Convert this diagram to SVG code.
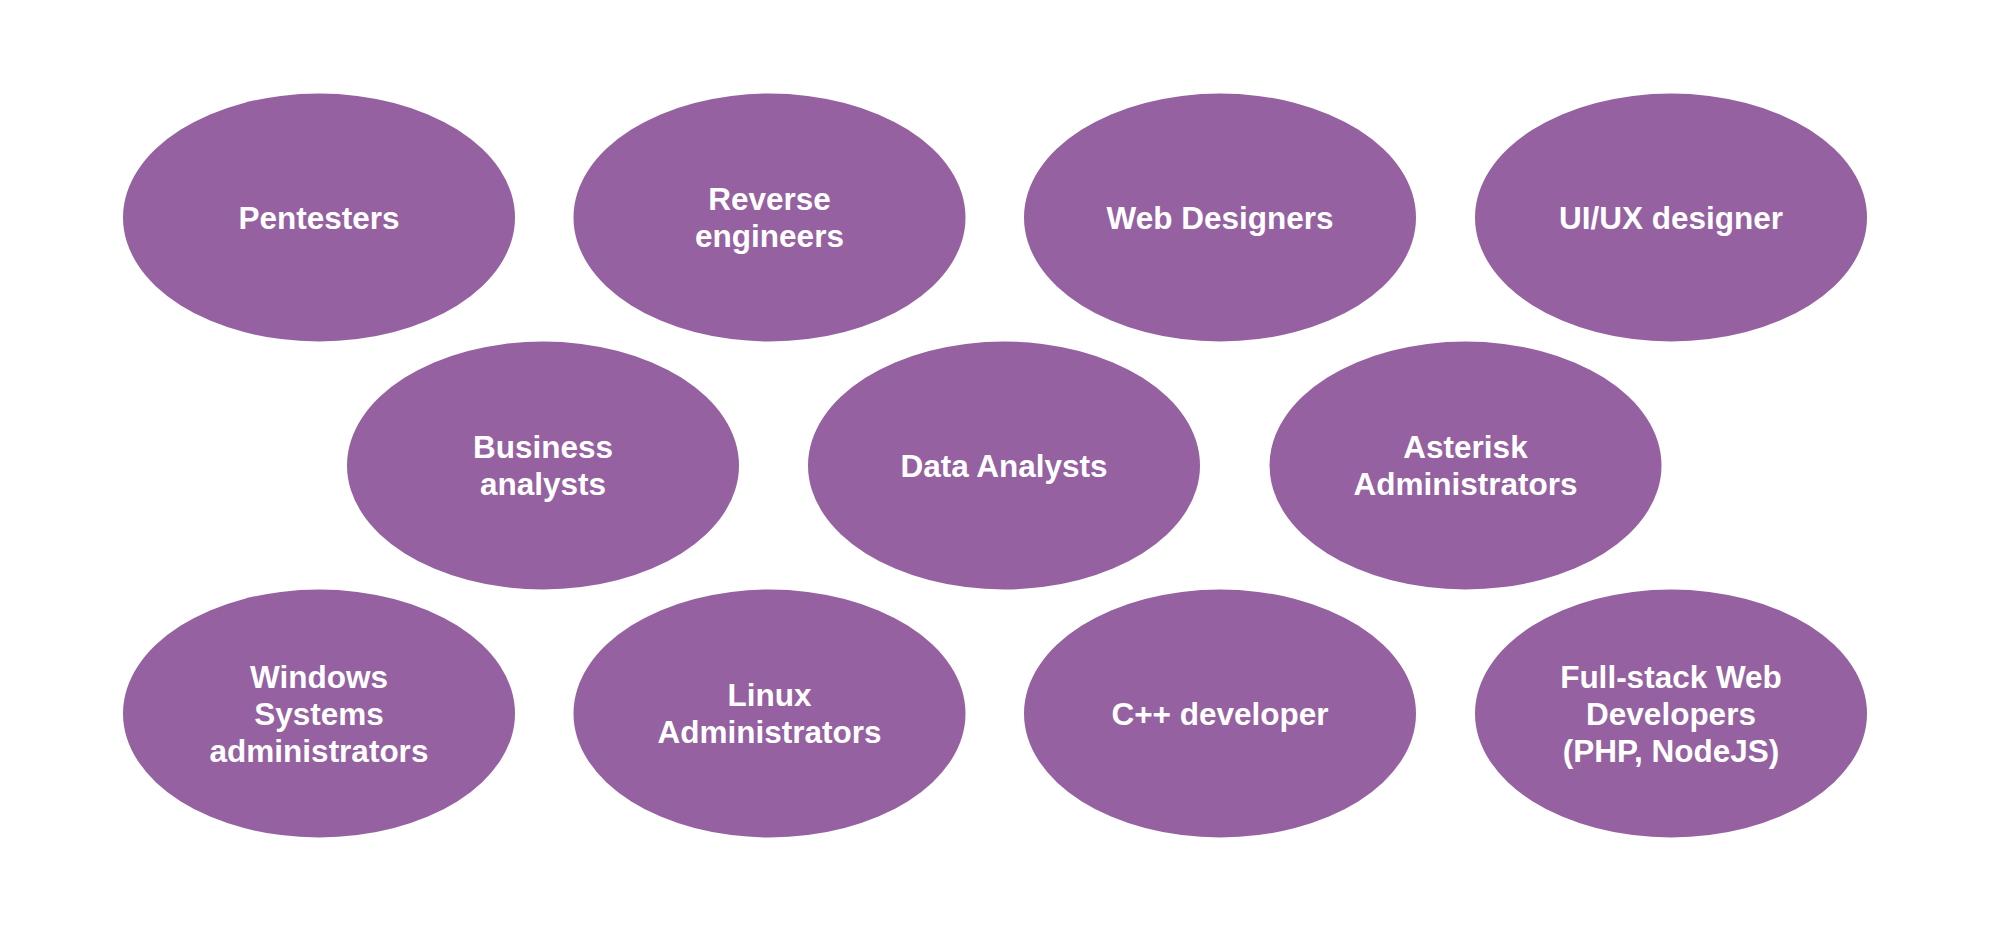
<svg xmlns="http://www.w3.org/2000/svg" width="1999" height="945" viewBox="0 0 1999 945">
<style>
.node ellipse{fill:#9561a1;}
.node text{font-family:"Liberation Sans",Arial,Helvetica,sans-serif;font-weight:bold;font-size:31.5px;fill:#ffffff;text-anchor:middle;}
</style>
<rect width="1999" height="945" fill="#ffffff"/>
<g id="connectors"></g>
<g id="n1" class="node"><ellipse cx="319" cy="217.5" rx="196" ry="124"/><text x="319" y="229">Pentesters</text></g>
<g id="n2" class="node"><ellipse cx="769.5" cy="217.5" rx="196" ry="124"/><text x="769.5" y="210">Reverse</text><text x="769.5" y="247">engineers</text></g>
<g id="n3" class="node"><ellipse cx="1220" cy="217.5" rx="196" ry="124"/><text x="1220" y="229">Web Designers</text></g>
<g id="n4" class="node"><ellipse cx="1671" cy="217.5" rx="196" ry="124"/><text x="1671" y="229">UI/UX designer</text></g>
<g id="n5" class="node"><ellipse cx="543" cy="465.5" rx="196" ry="124"/><text x="543" y="458">Business</text><text x="543" y="495">analysts</text></g>
<g id="n6" class="node"><ellipse cx="1004" cy="465.5" rx="196" ry="124"/><text x="1004" y="477">Data Analysts</text></g>
<g id="n7" class="node"><ellipse cx="1465.5" cy="465.5" rx="196" ry="124"/><text x="1465.5" y="458">Asterisk</text><text x="1465.5" y="495">Administrators</text></g>
<g id="n8" class="node"><ellipse cx="319" cy="713.5" rx="196" ry="124"/><text x="319" y="687.5">Windows</text><text x="319" y="724.5">Systems</text><text x="319" y="761.5">administrators</text></g>
<g id="n9" class="node"><ellipse cx="769.5" cy="713.5" rx="196" ry="124"/><text x="769.5" y="706">Linux</text><text x="769.5" y="743">Administrators</text></g>
<g id="n10" class="node"><ellipse cx="1220" cy="713.5" rx="196" ry="124"/><text x="1220" y="725">C++ developer</text></g>
<g id="n11" class="node"><ellipse cx="1671" cy="713.5" rx="196" ry="124"/><text x="1671" y="687.5">Full-stack Web</text><text x="1671" y="724.5">Developers</text><text x="1671" y="761.5">(PHP, NodeJS)</text></g>
</svg>
